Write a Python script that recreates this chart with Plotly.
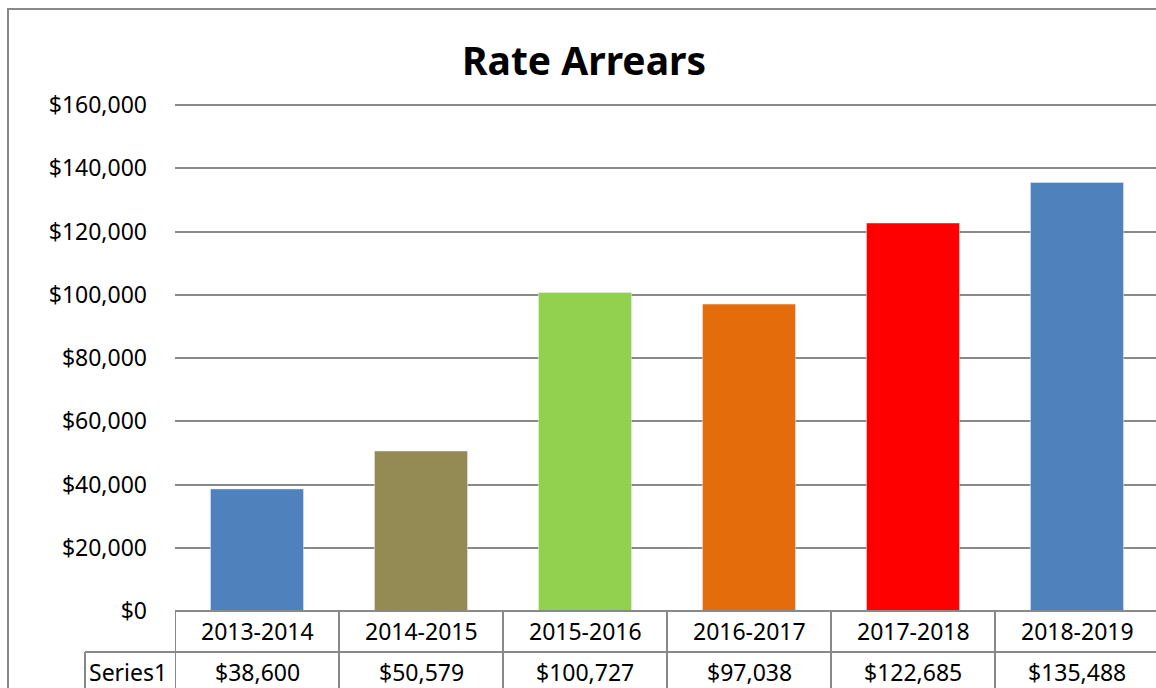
import plotly.graph_objects as go

categories = ["2013-2014", "2014-2015", "2015-2016", "2016-2017", "2017-2018", "2018-2019"]
values = [38600, 50579, 100727, 97038, 122685, 135488]
value_labels = ["$38,600", "$50,579", "$100,727", "$97,038", "$122,685", "$135,488"]
series_name = "Series1"
colors = ["#4F81BD", "#948A54", "#92D050", "#E46C0A", "#FF0000", "#4F81BD"]
y_ticks = [0, 20000, 40000, 60000, 80000, 100000, 120000, 140000, 160000]
y_tick_labels = ["$0", "$20,000", "$40,000", "$60,000", "$80,000", "$100,000", "$120,000", "$140,000", "$160,000"]

W, H = 1156, 688
L, R, T, B = 175, 0, 102, 77
pw, ph = W - L - R, H - T - B
ymax = 160000 * ph / 506.0

def xp(px):
    return (px - L) / pw

def yp(py):
    return (H - B - py) / ph

FONT = "Noto Sans"
grid = "#898989"

fig = go.Figure()
fig.add_trace(go.Bar(x=list(range(len(categories))), y=values, marker_color=colors,
                     width=0.567, name=series_name, showlegend=False))

shapes = []
shapes.append(dict(type="rect", xref="paper", yref="paper", x0=xp(8), x1=xp(1200), y0=yp(740), y1=yp(9),
                   line=dict(color=grid, width=2), layer="below"))
shapes.append(dict(type="line", xref="paper", yref="paper", x0=0, x1=xp(1200), y0=0, y1=0,
                   line=dict(color=grid, width=2)))
shapes.append(dict(type="line", xref="paper", yref="paper", x0=xp(85), x1=xp(1200), y0=yp(652), y1=yp(652),
                   line=dict(color=grid, width=2)))
for i in range(len(categories) + 1):
    shapes.append(dict(type="line", xref="x", yref="paper", x0=i - 0.5, x1=i - 0.5, y0=0, y1=yp(740),
                       line=dict(color=grid, width=2)))
shapes.append(dict(type="line", xref="paper", yref="paper", x0=xp(85), x1=xp(85), y0=yp(652), y1=yp(740),
                   line=dict(color=grid, width=2)))

tfont = dict(family=FONT, size=23, color="black")
ann = []
for i, (c, v) in enumerate(zip(categories, value_labels)):
    ann.append(dict(x=i, xref="x", y=yp(631), yref="paper", text=c, showarrow=False,
                    xanchor="center", yanchor="middle", font=tfont))
    ann.append(dict(x=i, xref="x", y=yp(672), yref="paper", text=v, showarrow=False,
                    xanchor="center", yanchor="middle", font=tfont))
ann.append(dict(x=xp(128), xref="paper", y=yp(672), yref="paper", text=series_name, showarrow=False,
                xanchor="center", yanchor="middle", font=tfont))

fig.update_layout(
    width=W, height=H,
    margin=dict(l=L, r=R, t=T, b=B, autoexpand=False),
    paper_bgcolor="white", plot_bgcolor="white",
    title=dict(text="<b>Rate Arrears</b>", x=584 / W, xref="container", xanchor="center",
               y=1 - 61 / H, yref="container", yanchor="middle",
               font=dict(family=FONT, size=39, color="black")),
    xaxis=dict(range=[-0.5, 5.5 - 3 / 164], showticklabels=False, showgrid=False, zeroline=False,
               showline=False, fixedrange=True, automargin=False),
    yaxis=dict(range=[0, ymax], tickvals=y_ticks, ticktext=y_tick_labels,
               showgrid=True, gridcolor=grid, gridwidth=1.5, automargin=False,
               zeroline=False, showline=False, ticks="", ticklabelstandoff=27,
               tickfont=tfont),
    shapes=shapes, annotations=ann, bargap=0.43,
)

fig.write_html("out.html", config={"displayModeBar": False},
               post_script="document.body.style.margin='0';document.body.style.overflow='hidden';")
